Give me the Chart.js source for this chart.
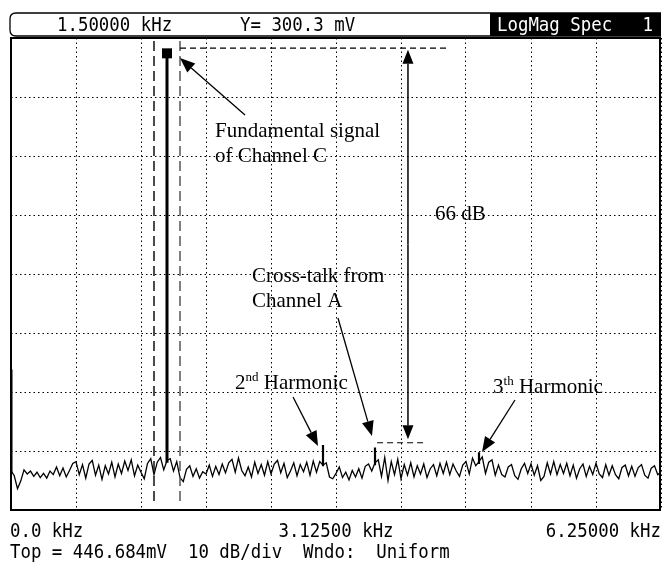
<!DOCTYPE html>
<html>
<head>
<meta charset="utf-8">
<script src="https://cdn.jsdelivr.net/npm/chart.js@4.4.1/dist/chart.umd.min.js"></script>
<style>
  html, body { margin: 0; padding: 0; background: #fff; }
  canvas { display: block; }
</style>
</head>
<body>
<canvas id="spec" width="662" height="565"></canvas>
<script>
// spectrum bins, 0 .. 6.25 kHz
const binKHz = 0.03125;
const noiseDbV = [
  -80.3, -81.2, -83.4, -82.1, -80.2, -80.9, -80.4, -81.3, -80.6, -81.5,
  -80.8, -81.6, -80.4, -81.0, -79.7, -81.2, -79.9, -81.4, -80.3, -79.1,
  -78.8, -81.0, -79.3, -81.6, -79.2, -78.6, -81.1, -79.4, -81.8, -79.5,
  -80.9, -78.9, -81.4, -79.2, -80.8, -78.7, -80.3, -78.5, -81.2, -79.4,
  -80.6, -81.7, -79.1, -78.3, -81.0, -78.9, -78.1, -80.2, -78.6, -78.3,
  -80.4, -78.8, -81.5, -82.2, -80.1, -79.5, -81.3, -80.0, -81.6, -80.5,
  -80.9, -79.4, -81.3, -79.6, -81.0, -79.2, -80.7, -79.0, -78.4, -80.6,
  -78.2, -80.3, -81.2, -79.7, -81.4, -78.9, -80.8, -79.3, -81.1, -78.8,
  -80.9, -79.2, -78.6, -80.7, -79.1, -81.5, -80.4, -79.0, -81.2, -79.3,
  -80.5, -78.9, -81.1, -78.7, -80.6, -78.8, -79.4, -79.0, -81.4, -81.7,
  -80.8, -79.7, -81.5, -80.6, -81.9, -80.3, -81.4, -80.0, -81.6, -79.6,
  -79.2, -80.4, -79.0, -78.5, -81.3, -78.1, -82.0, -78.8, -81.0, -78.4,
  -81.7, -79.3, -81.1, -79.0, -81.4, -79.5, -80.9, -79.2, -81.5, -80.0,
  -79.3, -81.2, -79.1, -80.8, -78.9, -81.0, -79.2, -80.4, -81.3, -79.4,
  -78.8, -80.9, -78.2, -79.5, -78.8, -78.0, -80.8, -78.9, -78.5, -81.1,
  -79.4, -81.0, -81.4, -79.7, -79.3, -81.2, -81.8, -80.0, -79.1, -80.8,
  -79.2, -81.1, -79.5, -82.0, -81.3, -79.0, -80.9, -78.8, -81.0, -79.3,
  -80.8, -79.1, -81.2, -79.4, -81.6, -80.0, -79.2, -81.3, -79.6, -81.0,
  -79.1, -80.9, -81.5, -79.3, -81.1, -79.5, -81.0, -81.7, -79.8, -79.4,
  -81.2, -79.6, -81.3, -79.8, -79.3, -81.1, -81.6, -79.9, -79.5, -81.0,
  -80.6
];

// DC, fundamental (1.5 kHz), 2nd harmonic, cross-talk from A, 3rd harmonic
const peakKHz = [0, 1.5, 3.0, 3.5, 4.5];
const peakDbV = [-63.2, -9.6, -76.0, -76.4, -77.2];
const peakBaseDbV = [-80.8, -79.0, -79.6, -79.4, -79.2];

const headerFreq = "1.50000 kHz";
const headerY = "Y= 300.3 mV";
const headerMode = "LogMag Spec";
const headerTrace = "1";
const xEdgeLabels = ["0.0 kHz", "3.12500 kHz", "6.25000 kHz"];
const footerText = "Top = 446.684mV  10 dB/div  Wndo:  Uniform";

const xMin = 0, xMax = 6.25;
const yMin = -87, yMax = -7;   // Top = 446.684 mV = -7 dBV, 8 div x 10 dB

// annotations, in kHz / dBV
const bandEdgesKHz = [1.375, 1.625];
const refLines = [
  { from: 1.625, to: 4.19, level: -8.7 },
  { from: 3.52, to: 4.0, level: -75.6 },
];
const notes = [
  { lines: ["Fundamental signal", "of Channel C"], kHz: 1.962, dbv: -23.8 },
  { lines: ["66 dB"], kHz: 4.077, dbv: -37.8 },
  { lines: ["Cross-talk from", "Channel A"], kHz: 2.317, dbv: -48.4 },
  { lines: ["2", "nd", " Harmonic"], kHz: 2.154, dbv: -66.5, sup: true },
  { lines: ["3", "th", " Harmonic"], kHz: 4.635, dbv: -67.2, sup: true },
];
const arrows = [
  { x1: 2.25, y1: -20.05, x2: 1.625, y2: -10.39 },
  { x1: 3.144, y1: -54.46, x2: 3.471, y2: -74.46 },
  { x1: 2.712, y1: -67.85, x2: 2.952, y2: -76.15 },
  { x1: 4.846, y1: -68.36, x2: 4.529, y2: -77.17 },
];
const spanArrow = { kHz: 3.817, top: -9.0, bottom: -75.0 };

const el = (id) => document.getElementById(id);

function tracePoints() {
  return noiseDbV.map((v, i) => ({ x: i * binKHz, y: v }));
}

function stickPoints(idx) {
  const pts = [];
  idx.forEach((i) => {
    pts.push({ x: peakKHz[i], y: peakBaseDbV[i] });
    pts.push({ x: peakKHz[i], y: peakDbV[i] });
    pts.push({ x: peakKHz[i], y: null });
  });
  return pts;
}

function monoText(ctx, str, x, y, align) {
  const sx = 0.915;
  ctx.save();
  ctx.font = '19px "DejaVu Sans Mono"';
  ctx.textBaseline = "alphabetic";
  const w = ctx.measureText(str).width * sx;
  let left = x;
  if (align === "center") left = x - w / 2;
  if (align === "right") left = x - w;
  ctx.translate(left, y);
  ctx.scale(sx, 1);
  ctx.textAlign = "left";
  ctx.fillText(str, 0, 0);
  ctx.restore();
}

function arrowHead(ctx, x1, y1, x2, y2, len = 15, half = 6) {
  const a = Math.atan2(y2 - y1, x2 - x1);
  const bx = x2 - len * Math.cos(a), by = y2 - len * Math.sin(a);
  ctx.beginPath();
  ctx.moveTo(x1, y1);
  ctx.lineTo(bx, by);
  ctx.stroke();
  ctx.beginPath();
  ctx.moveTo(x2, y2);
  ctx.lineTo(bx + half * Math.sin(a), by - half * Math.cos(a));
  ctx.lineTo(bx - half * Math.sin(a), by + half * Math.cos(a));
  ctx.closePath();
  ctx.fill();
}

const whiteBg = {
  id: "whiteBg",
  beforeDraw(chart) {
    const c = chart.ctx;
    c.save();
    c.fillStyle = "#fff";
    c.fillRect(0, 0, chart.width, chart.height);
    c.restore();
  },
};

const analyzer = {
  id: "analyzer",
  afterDatasetsDraw(chart) {
    const c = chart.ctx;
    const xs = chart.scales.x, ys = chart.scales.y;
    const area = chart.chartArea;
    const px = (v) => xs.getPixelForValue(v);
    const py = (v) => ys.getPixelForValue(v);
    c.save();

    // band edge markers around the fundamental
    c.lineWidth = 1.5;
    c.setLineDash([10, 5]);
    bandEdgesKHz.forEach((f, i) => {
      c.strokeStyle = i === 0 ? "#111" : "#555";
      c.beginPath();
      c.moveTo(px(f), area.top + 3);
      c.lineTo(px(f), area.bottom - 4);
      c.stroke();
    });

    // reference levels
    c.strokeStyle = "#000";
    c.lineWidth = 1.2;
    c.setLineDash([6, 4]);
    refLines.forEach((r) => {
      c.beginPath();
      c.moveTo(px(r.from), py(r.level));
      c.lineTo(px(r.to), py(r.level));
      c.stroke();
    });
    c.setLineDash([]);

    // marker on the fundamental
    c.fillStyle = "#000";
    c.fillRect(px(peakKHz[1]) - 5, py(peakDbV[1]) - 5, 10, 10);

    // 66 dB span arrow
    c.lineWidth = 1.5;
    const sx = px(spanArrow.kHz), st = py(spanArrow.top), sb = py(spanArrow.bottom);
    const mid = (st + sb) / 2;
    arrowHead(c, sx, mid, sx, st, 14, 5.5);
    arrowHead(c, sx, mid, sx, sb, 14, 5.5);

    // callout arrows
    c.lineWidth = 1.3;
    arrows.forEach((a) => arrowHead(c, px(a.x1), py(a.y1), px(a.x2), py(a.y2)));

    // callout text
    c.fillStyle = "#000";
    c.textBaseline = "alphabetic";
    c.textAlign = "left";
    notes.forEach((n) => {
      const x = px(n.kHz), y = py(n.dbv);
      if (n.sup) {
        c.font = '21px "Liberation Serif"';
        c.fillText(n.lines[0], x, y);
        let w = c.measureText(n.lines[0]).width;
        c.font = '13px "Liberation Serif"';
        c.fillText(n.lines[1], x + w, y - 8);
        w += c.measureText(n.lines[1]).width;
        c.font = '21px "Liberation Serif"';
        c.fillText(n.lines[2], x + w, y);
      } else {
        c.font = '21px "Liberation Serif"';
        n.lines.forEach((t, k) => c.fillText(t, x, y + k * 25));
      }
    });

    // frame
    c.strokeStyle = "#000";
    c.lineWidth = 2;
    c.strokeRect(area.left, area.top, area.right - area.left - 1, area.bottom - area.top);
    c.restore();
  },
  afterDraw(chart) {
    const c = chart.ctx;
    const area = chart.chartArea;
    c.save();
    // header bar
    const top = 13, bot = 36, left = area.left - 1, right = area.right;
    c.strokeStyle = "#000";
    c.lineWidth = 1.3;
    c.beginPath();
    c.moveTo(right, top);
    c.lineTo(left + 6, top);
    c.quadraticCurveTo(left, top, left, top + 6);
    c.lineTo(left, bot - 6);
    c.quadraticCurveTo(left, bot, left + 6, bot);
    c.lineTo(right, bot);
    c.stroke();
    c.fillStyle = "#000";
    c.fillRect(490, top, right - 490, bot - top);

    c.fillStyle = "#000";
    monoText(c, headerFreq, 57, 31, "left");
    monoText(c, headerY, 240, 31, "left");
    c.fillStyle = "#fff";
    monoText(c, headerMode, 497, 31, "left");
    monoText(c, headerTrace, right - 8, 31, "right");

    // axis edge labels and footer
    c.fillStyle = "#000";
    monoText(c, xEdgeLabels[0], 10, 537, "left");
    monoText(c, xEdgeLabels[1], (area.left + area.right) / 2, 537, "center");
    monoText(c, xEdgeLabels[2], area.right, 537, "right");
    monoText(c, footerText, 10, 558, "left");
    c.restore();
  },
};

new Chart(el("spec"), {
  type: "line",
  data: {
    datasets: [
      { data: tracePoints(), borderColor: "#000", borderWidth: 1.3, pointRadius: 0, tension: 0 },
      { data: stickPoints([0, 1]), borderColor: "#000", borderWidth: 3, pointRadius: 0, spanGaps: false },
      { data: stickPoints([2, 3, 4]), borderColor: "#000", borderWidth: 2.2, pointRadius: 0, spanGaps: false },
    ],
  },
  options: {
    responsive: false,
    animation: false,
    layout: { padding: { left: 11, right: 1, top: 38, bottom: 55 } },
    plugins: { legend: { display: false }, tooltip: { enabled: false } },
    scales: {
      x: {
        type: "linear",
        min: xMin,
        max: xMax,
        ticks: { display: false, stepSize: 0.625 },
        grid: { color: "#000", lineWidth: 1, drawTicks: false },
        border: { display: false, dash: [1.5, 3] },
      },
      y: {
        min: yMin,
        max: yMax,
        ticks: { display: false, stepSize: 10 },
        grid: { color: "#000", lineWidth: 1, drawTicks: false },
        border: { display: false, dash: [1.5, 3] },
      },
    },
  },
  plugins: [whiteBg, analyzer],
});
</script>
</body>
</html>
